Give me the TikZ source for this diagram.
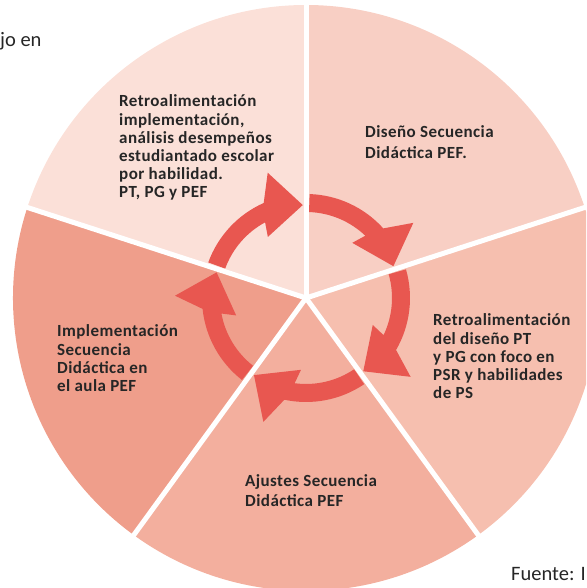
\documentclass[tikz,border=0pt]{standalone}
\usepackage{fontspec}
\setmainfont{Carlito}
\newfontfamily\lblfont[LetterSpace=2.5]{Carlito}
\definecolor{txtc}{HTML}{262626}
\definecolor{arrc}{HTML}{E85750}
\definecolor{sa}{HTML}{FBE0D8}
\definecolor{sb}{HTML}{F8CFC4}
\definecolor{sc}{HTML}{F6BFAF}
\definecolor{sd}{HTML}{F3AF9E}
\definecolor{se}{HTML}{EF9E8B}
\begin{document}
\begin{tikzpicture}[x=1pt,y=1pt,
  lbl/.style={anchor=base west, inner sep=0pt, text=txtc, font=\lblfont\bfseries\fontsize{17}{18.2}\selectfont},
  plain/.style={anchor=base west, inner sep=0pt, text=txtc, font=\fontsize{20.5}{24}\selectfont},
  sepline/.style={draw=white, line width=5pt},
  arrshape/.style={fill=arrc}]
\useasboundingbox (0,0) rectangle (586,588);
\begin{scope}
\clip (0,0) rectangle (586,588);
\begin{scope}[shift={(306,290)}]
\coordinate (c) at (0,0);
\fill[sa] (c) -- (90:293) arc[start angle=90,end angle=162,radius=293] -- cycle;
\fill[sb] (c) -- (18:293) arc[start angle=18,end angle=90,radius=293] -- cycle;
\fill[sc] (c) -- (-54:293) arc[start angle=-54,end angle=18,radius=293] -- cycle;
\fill[sd] (c) -- (-126:293) arc[start angle=-126,end angle=-54,radius=293] -- cycle;
\fill[se] (c) -- (162:293) arc[start angle=162,end angle=234,radius=293] -- cycle;
\foreach \b in {90,18,-54,-126,-198}{
  \fill[arrshape] ({\b-2}:104) arc[start angle={\b-2}, end angle={\b-48}, radius=104]
    -- ({\b-55}:131) -- ({\b-70}:93) -- ({\b-40}:72) -- ({\b-43.6}:86)
    arc[start angle={\b-43.6}, end angle={\b-2}, radius=86] -- cycle;
}
\foreach \a in {90,18,-54,-126,162}
  \draw[sepline] (c) -- (\a:300);
\end{scope}
\end{scope}
\node[lbl] (t1) at (119,481) {\begin{tabular}[t]{@{}l@{}}Retroalimentación\\implementación,\\análisis desempeños\\estudiantado escolar\\por habilidad.\\PT, PG y PEF\end{tabular}};
\node[lbl] (t2) at (365,450) {\begin{tabular}[t]{@{}l@{}}Diseño Secuencia\\[2.8pt]Didáctica PEF.\end{tabular}};
\node[lbl] (t3) at (433,262) {\begin{tabular}[t]{@{}l@{}}Retroalimentación\\del diseño PT\\y PG con foco en\\PSR y habilidades\\de PS\end{tabular}};
\node[lbl] (t4) at (57,251) {\begin{tabular}[t]{@{}l@{}}Implementación\\Secuencia\\Didáctica en\\el aula PEF\end{tabular}};
\node[lbl] (t5) at (245,101) {\begin{tabular}[t]{@{}l@{}}Ajustes Secuencia\\[1.8pt]Didáctica PEF\end{tabular}};
\node[plain] (jo) at (0,541) {jo en};
\node[plain] (fu) at (511,8) {Fuente: I};
\end{tikzpicture}
\end{document}
